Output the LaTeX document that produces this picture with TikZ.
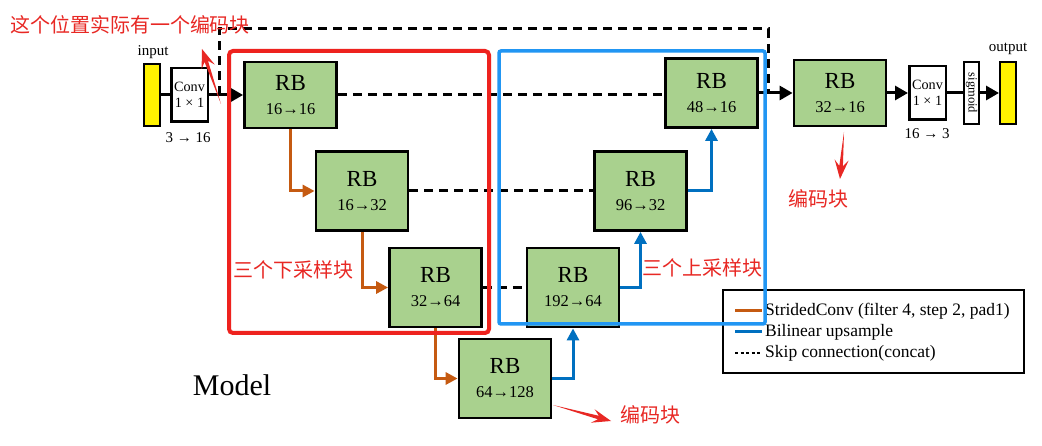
\documentclass[tikz,border=0pt]{standalone}
\usepackage{fontspec}
\setmainfont{Liberation Serif}
\newfontfamily\cjkfont{Noto Sans CJK SC}
\usetikzlibrary{arrows.meta,calc}
\definecolor{rbgreen}{RGB}{169,209,142}
\definecolor{dorange}{RGB}{197,90,17}
\definecolor{dblue}{RGB}{0,112,192}
\definecolor{boxred}{RGB}{238,34,30}
\definecolor{boxblue}{RGB}{33,150,243}
\definecolor{txtred}{RGB}{232,40,36}
\begin{document}
\begin{tikzpicture}[x=1pt,y=-1pt,
  rb/.style={draw=black, line width=2.8pt, fill=rbgreen, inner sep=0pt, minimum width=92pt, minimum height=79pt, align=center, font=\fontsize{16.5}{24}\selectfont},
  rbtop/.style={rb, minimum height=66pt},
  convbox/.style={draw=black, line width=2.5pt, fill=white, inner sep=0pt, minimum width=36.5pt, minimum height=53.5pt, align=center, font=\fontsize{14.2}{16}\selectfont},
  yellowbox/.style={draw=black, line width=2pt, fill=yellow, inner sep=0pt, minimum width=16pt, minimum height=62pt},
  sigbox/.style={draw=black, line width=2pt, fill=white, inner sep=0pt, minimum width=15pt, minimum height=62pt, font=\fontsize{12.5}{13}\selectfont},
  plain/.style={inner sep=0pt, font=\fontsize{15}{17}\selectfont},
  flow/.style={draw=black, line width=3pt},
  flowarrow/.style={flow, -{Triangle[length=13pt,width=14pt]}},
  skipline/.style={draw=black, line width=3pt, dash pattern=on 9pt off 6pt},
  downline/.style={draw=dorange, line width=3pt, -{Triangle[length=12pt,width=12pt]}},
  upline/.style={draw=dblue, line width=3pt, -{Triangle[length=12pt,width=12pt]}},
  cnlabel/.style={inner sep=0pt, text=txtred, font=\cjkfont\fontsize{20}{22}\selectfont},
  calloutfill/.style={fill=txtred, draw=none},
  legtext/.style={inner sep=0pt, anchor=west, font=\fontsize{17.5}{20}\selectfont},
]
\useasboundingbox (0,0) rectangle (1042,446);
\fill[white] (0,0) rectangle (1042,446);

% input / output stages
\node[yellowbox] (in) at (152,95) {};
\node[plain] (inlbl) at (153,52) {input};
\node[convbox] (c1) at (189.5,95) {Conv\\1 × 1};
\node[plain] (c1lbl) at (188,138) {3 → 16};

\node[convbox] (c2) at (927.5,93) {Conv\\1 × 1};
\node[plain] (c2lbl) at (927,134) {16 → 3};
\node[sigbox] (sg) at (971.5,93) {\rotatebox{-90}{sigmoid}};
\node[yellowbox] (out) at (1008,93) {};
\node[plain] (outlbl) at (1008,49) {output};

% residual blocks
\node[rbtop] (rb1) at (290.5,95) {{\fontsize{23}{24}\selectfont RB}\\16→16};
\node[rb] (rb2) at (362,191) {{\fontsize{23}{24}\selectfont RB}\\16→32};
\node[rb] (rb3) at (435.5,287.5) {{\fontsize{23}{24}\selectfont RB}\\32→64};
\node[rb] (rb4) at (505,378.5) {{\fontsize{23}{24}\selectfont RB}\\64→128};
\node[rb] (rb5) at (573,287.5) {{\fontsize{23}{24}\selectfont RB}\\192→64};
\node[rb] (rb6) at (640.5,191) {{\fontsize{23}{24}\selectfont RB}\\96→32};
\node[rbtop, minimum height=69pt] (rb7) at (711.5,93) {{\fontsize{23}{24}\selectfont RB}\\48→16};
\node[rbtop] (rb8) at (840,93) {{\fontsize{23}{24}\selectfont RB}\\32→16};

% main flow
\draw[flow] (in.east) -- (c1.west);
\draw[flowarrow] (c1.east) -- (rb1.west);
\draw[flowarrow] (rb7.east) -- (rb8.west);
\draw[flowarrow] (rb8.east) -- (c2.west);
\draw[flow] (c2.east) -- (sg.west);
\draw[flowarrow] (sg.east) -- (out.west);

% skip connections
\draw[skipline] (rb1.east) -- (rb1.east -| rb7.west);
\draw[skipline] (rb2.east) -- (rb6.west);
\draw[skipline] (rb3.east) -- (rb5.west);
\coordinate (skA) at (219,95);
\coordinate (skTop) at (219,29);
\coordinate (skB) at (768,93);
\draw[skipline] (skA) -- (skTop) -| (skB);

% down / up sampling
\draw[downline] (rb1.south) |- (rb2.west);
\draw[downline] (rb2.south) |- (rb3.west);
\draw[downline] (rb3.south) |- (rb4.west);
\draw[upline] (rb4.east) -| (rb5.south);
\draw[upline] (rb5.east) -| (rb6.south);
\draw[upline] (rb6.east) -| (rb7.south);

% legend
\node[draw=black, line width=2pt, fill=white, minimum width=301pt, minimum height=83pt, inner sep=0pt] (leg) at (873,331.5) {};
\node[legtext] (l1) at (765,311) {StridedConv (filter 4, step 2, pad1)};
\node[legtext] (l2) at (765,332) {Bilinear upsample};
\node[legtext] (l3) at (765,353) {Skip connection(concat)};
\draw[dorange, line width=3pt] ([xshift=-30pt]l1.west) -- ([xshift=-3pt]l1.west);
\draw[dblue, line width=3pt] ([xshift=-30pt]l2.west) -- ([xshift=-3pt]l2.west);
\draw[black, line width=2.5pt, dash pattern=on 3pt off 2.5pt] ([xshift=-30pt]l3.west) -- ([xshift=-4pt]l3.west);

% group frames
\draw[boxred, line width=4pt, rounded corners=4pt] (229,51) rectangle (489,333);
\draw[boxblue, line width=3.5pt, rounded corners=2pt] (499,51) rectangle (765,324);

% caption
\node[inner sep=0pt, font=\fontsize{30}{34}\selectfont] (model) at (232,385) {Model};

% annotations
\node[cnlabel] (n1) at (130,25) {这个位置实际有一个编码块};
\node[cnlabel] (n2) at (293,270) {三个下采样块};
\node[cnlabel] (n3) at (702,268) {三个上采样块};
\node[cnlabel] (n4) at (650,415) {编码块};
\node[cnlabel] (n5) at (818,199) {编码块};
\coordinate (a1t) at (221,104);
\coordinate (a1h) at (202,49);
\coordinate (a2t) at (553,405);
\coordinate (a2h) at (611,421);
\coordinate (a3t) at (844,132);
\coordinate (a3h) at (840,179);
\foreach \t/\h in {a1t/a1h, a2t/a2h, a3t/a3h}{
  \coordinate (hb) at ($(\h)!13pt!(\t)$);
  \coordinate (hw) at ($(\h)!19pt!(\t)$);
  \fill[calloutfill] (\t) -- ($(hb)!1.8pt!90:(\h)$) -- ($(hw)!7pt!90:(\h)$) -- (\h)
    -- ($(hw)!7pt!-90:(\h)$) -- ($(hb)!1.8pt!-90:(\h)$) -- cycle;
}
\end{tikzpicture}
\end{document}
